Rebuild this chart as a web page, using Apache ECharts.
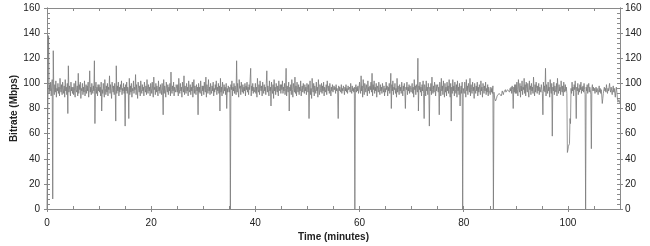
<!DOCTYPE html>
<html><head><meta charset="utf-8">
<script src="https://cdn.jsdelivr.net/npm/echarts@6/dist/echarts.min.js"></script>
<style>html,body{margin:0;padding:0;background:#fff}#c{width:650px;height:246px}</style>
</head><body><div id="c"></div>
<script>
// Sample spacing (minutes) for the bitrate trace below
const stepMinutes = 0.1;
// Bitrate samples (Mbps), one per stepMinutes in 5-minute blocks
const bitrate0to5 = [0,60,96,138,92,99,94,101,90,97,103,8,126,95,91,99,93,102,89,96,94,100,92,97,90,104,95,93,99,91,101,96,92,98,89,103,94,97,91,100,76,114,93,98,95,90,101,94,97,92];
const bitrate5to10 = [97,91,100,94,89,102,95,93,98,90,108,92,99,95,101,88,96,94,100,91,97,93,102,90,95,99,92,98,94,101,89,96,110,93,97,91,100,95,92,98,94,118,68,96,101,92,97,90,99,94];
const bitrate10to15 = [99,93,97,90,101,78,95,92,100,94,89,103,96,91,98,93,100,90,97,95,106,92,99,94,88,101,96,93,98,91,100,95,70,114,92,98,94,101,90,97,93,99,95,102,91,96,94,100,92,97];
const bitrate15to20 = [66,99,94,101,92,97,95,72,104,91,98,93,100,89,96,94,102,92,97,95,107,91,99,94,88,101,96,93,98,90,102,95,92,99,94,97,90,101,96,93,98,91,103,95,92,99,94,97,90,100];
const bitrate20to25 = [96,92,101,94,89,105,95,97,91,100,93,98,95,90,102,94,97,92,99,95,91,100,94,75,103,92,98,95,89,101,96,93,99,91,97,94,100,90,109,95,92,98,94,101,90,97,95,93,99,96];
const bitrate25to30 = [93,99,90,104,95,92,100,94,97,89,101,96,93,106,91,98,95,92,100,94,97,90,102,95,93,99,91,97,94,101,89,96,103,92,98,95,91,99,94,97,75,100,93,97,92,102,95,90,98,94];
const bitrate30to35 = [98,91,101,95,93,105,89,99,96,92,103,94,97,91,100,95,92,98,94,101,90,96,93,99,95,102,91,97,94,100,92,98,78,104,93,97,90,101,95,92,99,94,97,91,100,80,96,93,98,95];
const bitrate35to40 = [93,97,0,99,95,102,90,97,94,100,92,98,95,91,118,93,100,94,89,103,96,98,91,101,95,93,99,92,97,94,100,90,98,95,101,93,97,91,99,95,96,112,90,98,94,100,92,97,95,93];
const bitrate40to45 = [100,92,97,89,104,95,93,99,91,102,96,94,98,90,101,95,92,99,94,97,91,100,110,93,98,95,90,102,94,97,82,101,95,92,99,88,103,94,97,91,100,95,93,98,90,102,96,94,99,92];
const bitrate45to50 = [99,95,102,92,97,94,100,91,96,112,90,98,95,93,101,78,97,94,99,91,103,95,89,100,96,93,105,92,98,90,101,95,93,99,91,97,94,102,90,96,98,93,100,95,92,99,94,97,91,100];
const bitrate50to55 = [97,93,99,72,94,102,91,96,88,104,95,93,100,90,98,95,92,101,94,97,89,103,95,91,99,96,93,100,92,98,94,101,90,97,95,93,99,91,102,96,94,98,92,100,95,90,97,94,99,93];
const bitrate55to60 = [93,98,95,97,92,99,94,96,93,72,98,94,97,95,93,99,92,96,94,98,95,91,97,94,99,93,96,92,98,95,94,97,93,100,95,92,98,94,96,93,97,0,95,99,93,97,94,98,92,96];
const bitrate60to65 = [101,95,92,106,94,98,89,103,96,91,100,97,93,99,95,90,102,94,97,92,98,95,101,93,108,90,99,95,102,92,97,94,100,89,98,96,93,101,95,91,99,94,97,92,100,95,93,98,90,96];
const bitrate65to70 = [93,101,95,98,90,97,94,100,92,96,108,80,99,94,102,91,97,95,100,92,96,89,104,93,98,95,91,99,94,97,92,101,95,90,98,94,100,93,80,97,95,101,91,97,94,99,92,98,95,93];
const bitrate70to75 = [94,100,92,97,89,103,95,98,91,99,96,93,120,78,98,95,101,93,97,90,99,94,102,92,72,99,96,90,102,94,97,91,100,95,66,97,94,100,91,105,95,92,98,93,101,96,90,99,94,97];
const bitrate75to80 = [99,93,97,75,101,96,90,104,94,98,91,102,95,89,100,93,97,90,101,94,98,92,103,95,89,100,70,97,92,103,94,98,90,101,95,92,99,89,102,94,97,91,100,82,95,98,92,101,0,96];
const bitrate80to85 = [97,92,101,95,89,103,94,98,91,100,96,93,104,90,99,95,92,101,94,97,88,100,95,92,98,94,101,90,97,93,99,95,91,102,94,97,89,100,96,92,98,94,101,91,96,93,99,90,97,94];
const bitrate85to90 = [95,91,97,93,96,92,98,0,93,89,88,86,87,88,90,89,91,90,92,91,93,92,90,92,94,93,91,93,92,94,95,93,94,92,95,94,96,95,93,96,94,97,92,98,95,80,97,93,99,92];
const bitrate90to95 = [99,92,101,95,90,103,96,93,100,89,98,94,102,91,97,95,104,92,99,90,101,96,93,100,94,89,102,95,98,91,100,94,97,92,105,95,90,99,93,101,96,92,98,94,100,91,97,95,93,99];
const bitrate95to100 = [95,92,75,101,94,98,93,112,90,99,96,92,101,94,97,89,103,95,92,100,58,97,94,101,91,98,95,93,100,90,104,95,92,99,94,97,91,102,95,93,98,90,101,96,93,99,94,97,92,45];
const bitrate100to105 = [47,50,49,52,72,68,96,92,101,94,97,90,99,95,102,93,72,97,94,100,91,96,93,99,95,101,92,97,94,98,93,100,95,91,0,97,94,99,92,96,100,93,97,95,91,48,96,99,94,97];
const bitrate105to110 = [94,96,92,95,97,93,96,94,91,95,98,93,96,92,95,90,84,88,92,95,97,94,96,93,99,95,92,96,94,97,100,95,93,97,94,91,95,98,93,96,92,89,94,97,93,88,85,84,87,86,84];

// Axis ticks
const timeTicks = [0, 20, 40, 60, 80, 100];
const bitrateTicks = [0, 20, 40, 60, 80, 100, 120, 140, 160];

const bitrate = [].concat(bitrate0to5, bitrate5to10, bitrate10to15, bitrate15to20, bitrate20to25,
  bitrate25to30, bitrate30to35, bitrate35to40, bitrate40to45, bitrate45to50, bitrate50to55,
  bitrate55to60, bitrate60to65, bitrate65to70, bitrate70to75, bitrate75to80, bitrate80to85,
  bitrate85to90, bitrate90to95, bitrate95to100, bitrate100to105, bitrate105to110);
const seriesData = bitrate.map((v, i) => [+(i * stepMinutes).toFixed(2), v]);

const axisColor = '#8a8a8a';
const font = 'Liberation Sans, Arial, sans-serif';
const xMin = timeTicks[0], xMax = 110, xInt = timeTicks[1] - timeTicks[0];
const yMin = bitrateTicks[0], yMax = bitrateTicks[bitrateTicks.length - 1], yInt = bitrateTicks[1] - bitrateTicks[0];

function xa(extra) {
  return Object.assign({
    type: 'value', min: xMin, max: xMax, interval: xInt,
    axisLine: { show: true, onZero: false, lineStyle: { color: axisColor, width: 1 } },
    splitLine: { show: false }, axisLabel: { show: false },
    axisTick: { show: false }, minorTick: { show: false }
  }, extra);
}
function ya(extra) {
  return Object.assign({
    type: 'value', min: yMin, max: yMax, interval: yInt,
    axisLine: { show: true, onZero: false, lineStyle: { color: axisColor, width: 1 } },
    splitLine: { show: false }, axisLabel: { show: false },
    axisTick: { show: false }, minorTick: { show: false }
  }, extra);
}
const inTick = { show: true, inside: true, length: 3, lineStyle: { color: axisColor } };

const chart = echarts.init(document.getElementById('c'), null, { renderer: 'canvas' });
chart.setOption({
  animation: false,
  backgroundColor: '#fff',
  grid: { left: 47, right: 30, top: 8, bottom: 37, containLabel: false, outerBoundsMode: 'none' },
  xAxis: [
    xa({ position: 'bottom',
      name: 'Time (minutes)', nameLocation: 'middle', nameGap: 23, nameMoveOverlap: false,
      nameTextStyle: { fontFamily: font, fontSize: 10, fontWeight: 'bold', color: '#222' },
      axisLabel: { show: true, margin: 9, fontFamily: font, fontSize: 10, color: '#222', showMaxLabel: false },
      axisTick: { show: true, inside: false, length: 3, lineStyle: { color: axisColor } } }),
    xa({ position: 'bottom', interval: 5, axisTick: inTick }),
    xa({ position: 'top', interval: 5, axisTick: inTick })
  ],
  yAxis: [
    ya({ position: 'left',
      name: 'Bitrate (Mbps)', nameLocation: 'middle', nameGap: 28, nameRotate: 90, nameMoveOverlap: false,
      nameTextStyle: { fontFamily: font, fontSize: 10, fontWeight: 'bold', color: '#222' },
      axisLabel: { show: true, margin: 7, fontFamily: font, fontSize: 10, color: '#222' },
      axisTick: { show: true, inside: false, length: 3, lineStyle: { color: axisColor } } }),
    ya({ position: 'left', interval: 4, axisTick: inTick }),
    ya({ position: 'right',
      axisLabel: { show: true, margin: 5, fontFamily: font, fontSize: 10, color: '#222' },
      axisTick: { show: true, inside: false, length: 3, lineStyle: { color: axisColor } } }),
    ya({ position: 'right', interval: 4, axisTick: inTick })
  ],
  series: [{
    type: 'line', xAxisIndex: 0, yAxisIndex: 0, data: seriesData,
    showSymbol: false, symbol: 'none', silent: true,
    lineStyle: { color: '#7a7a7a', width: 0.8 }
  }]
});
</script></body></html>
